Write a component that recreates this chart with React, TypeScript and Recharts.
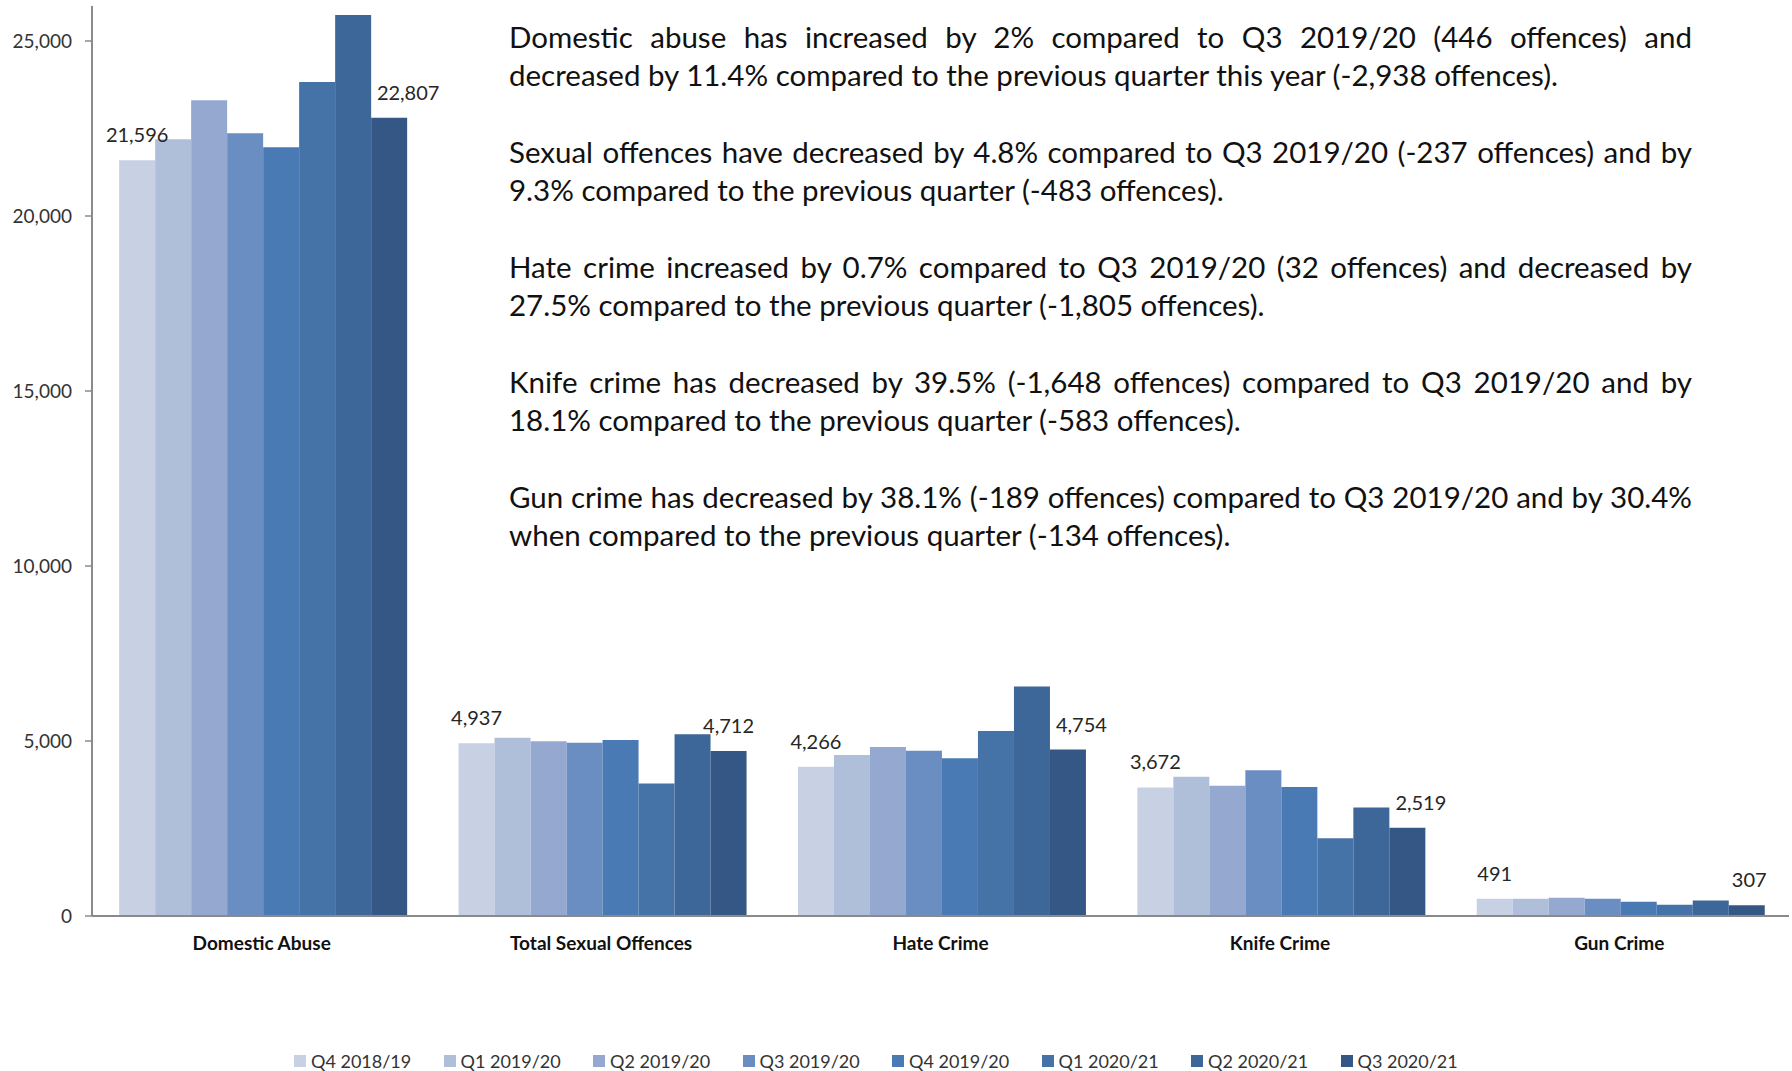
import React from "react";
import { BarChart, Bar, XAxis, YAxis, Legend, LabelList } from "recharts";

const categories = [
  "Domestic Abuse",
  "Total Sexual Offences",
  "Hate Crime",
  "Knife Crime",
  "Gun Crime",
];

const quarters = [
  "Q4 2018/19",
  "Q1 2019/20",
  "Q2 2019/20",
  "Q3 2019/20",
  "Q4 2019/20",
  "Q1 2020/21",
  "Q2 2020/21",
  "Q3 2020/21",
];

const q4_1819 = [21596, 4937, 4266, 3672, 491];
const q1_1920 = [22195, 5092, 4602, 3982, 490];
const q2_1920 = [23305, 4994, 4831, 3721, 525];
const q3_1920 = [22361, 4949, 4722, 4167, 496];
const q4_1920 = [21967, 5027, 4504, 3688, 405];
const q1_2021 = [23827, 3786, 5288, 2220, 320];
const q2_2021 = [25745, 5195, 6559, 3102, 441];
const q3_2021 = [22807, 4712, 4754, 2519, 307];

const yTicks = [0, 5000, 10000, 15000, 20000, 25000];

const notes = [
  [
    "Domestic abuse has increased by 2% compared to Q3 2019/20 (446 offences) and",
    "decreased by 11.4% compared to the previous quarter this year (-2,938 offences).",
  ],
  [
    "Sexual offences have decreased by 4.8% compared to Q3 2019/20 (-237 offences) and by",
    "9.3% compared to the previous quarter (-483 offences).",
  ],
  [
    "Hate crime increased by 0.7% compared to Q3 2019/20 (32 offences) and decreased by",
    "27.5% compared to the previous quarter (-1,805 offences).",
  ],
  [
    "Knife crime has decreased by 39.5% (-1,648 offences) compared to Q3 2019/20 and by",
    "18.1% compared to the previous quarter (-583 offences).",
  ],
  [
    "Gun crime has decreased by 38.1% (-189 offences) compared to Q3 2019/20 and by 30.4%",
    "when compared to the previous quarter (-134 offences).",
  ],
];

const series = [q4_1819, q1_1920, q2_1920, q3_1920, q4_1920, q1_2021, q2_2021, q3_2021];
const colors = [
  "#C8D1E4",
  "#AFBFDA",
  "#95A9D0",
  "#6A8EC2",
  "#4A7AB4",
  "#4572A7",
  "#3D6699",
  "#355786",
];

const data = categories.map((name, i) => {
  const row: Record<string, string | number> = { name };
  quarters.forEach((q, j) => {
    row[q] = series[j][i];
  });
  return row;
});

const FONT = "Lato, 'Open Sans', sans-serif";
const AXIS = "#8a8a8a";

const fmt = (v: number) => v.toLocaleString("en-GB");

function makeLabel(prev: number[] | null) {
  return (props: any) => {
    const { x, y, width, value, index } = props;
    const text = fmt(Number(value));
    let cx = Number(x) + Number(width) / 2;
    if (prev && prev[index] > Number(value) * 1.12) {
      const half = (text.length * 0.55 * 20) / 2;
      cx += Math.max(0, half - Number(width) / 2 + 4);
    }
    return (
      <text
        x={cx}
        y={Number(y) - 26}
        textAnchor="middle"
        dominantBaseline="central"
        fontSize={20}
        fontFamily={FONT}
        fill="#262626"
      >
        {text}
      </text>
    );
  };
}

function LegendContent({ payload }: any) {
  const items = [...(payload || [])].sort(
    (a: any, b: any) => quarters.indexOf(a.value) - quarters.indexOf(b.value)
  );
  return (
    <div style={{ display: "flex", paddingLeft: 294, height: 21, alignItems: "center" }}>
      {items.map((p: any) => (
        <div key={p.value} style={{ width: 149.5, display: "flex", alignItems: "center" }}>
          <span
            style={{ width: 12, height: 12, background: p.color, display: "inline-block", marginRight: 5 }}
          />
          <span style={{ fontSize: 18, fontFamily: FONT, color: "#333" }}>{p.value}</span>
        </div>
      ))}
    </div>
  );
}

export default function App() {
  return (
    <div style={{ position: "absolute", left: 0, top: 0, width: 1792, height: 1071, background: "#fff" }}>
      <BarChart
        width={1792}
        height={1071}
        data={data}
        margin={{ top: 6, right: 3, bottom: 0, left: 0 }}
        barGap={0}
        barCategoryGap="8%"
      >
        <XAxis
          xAxisId="bounds"
          type="number"
          domain={[0, 5]}
          ticks={[0, 1, 2, 3, 4, 5]}
          allowDataOverflow
          tick={false}
          tickSize={7}
          tickLine={{ stroke: AXIS, strokeWidth: 1.5 }}
          axisLine={{ stroke: AXIS, strokeWidth: 2 }}
          height={1}
        />
        <XAxis
          xAxisId="cat"
          dataKey="name"
          axisLine={false}
          tickLine={false}
          tickSize={0}
          tickMargin={20}
          interval={0}
          height={133}
          tick={{ fontSize: 19, fontWeight: 700, fontFamily: FONT, fill: "#111" }}
        />
        <YAxis
          domain={[0, 26000]}
          ticks={yTicks}
          width={92}
          tickSize={7}
          tickMargin={13}
          tickFormatter={fmt}
          tick={{ fontSize: 19, fontFamily: FONT, fill: "#333" }}
          tickLine={{ stroke: AXIS, strokeWidth: 1.5 }}
          axisLine={{ stroke: AXIS, strokeWidth: 2 }}
        />
        <Legend verticalAlign="bottom" height={21} content={<LegendContent />} />
        {quarters.map((q, j) => (
          <Bar key={q} dataKey={q} xAxisId="cat" fill={colors[j]} isAnimationActive={false}>
            {j === 0 && <LabelList dataKey={q} content={makeLabel(null)} />}
            {j === quarters.length - 1 && <LabelList dataKey={q} content={makeLabel(series[j - 1])} />}
          </Bar>
        ))}
      </BarChart>
      <div
        style={{
          position: "absolute",
          left: 509,
          top: 18,
          width: 1183,
          fontFamily: FONT,
          fontSize: 29.5,
          lineHeight: "38.3px",
          color: "#111",
        }}
      >
        {notes.map((lines, i) => (
          <div key={i} style={{ marginBottom: 38.3 }}>
            <div style={{ textAlign: "justify", textAlignLast: "justify", whiteSpace: "nowrap" }}>{lines[0]}</div>
            <div style={{ whiteSpace: "nowrap" }}>{lines[1]}</div>
          </div>
        ))}
      </div>
    </div>
  );
}
